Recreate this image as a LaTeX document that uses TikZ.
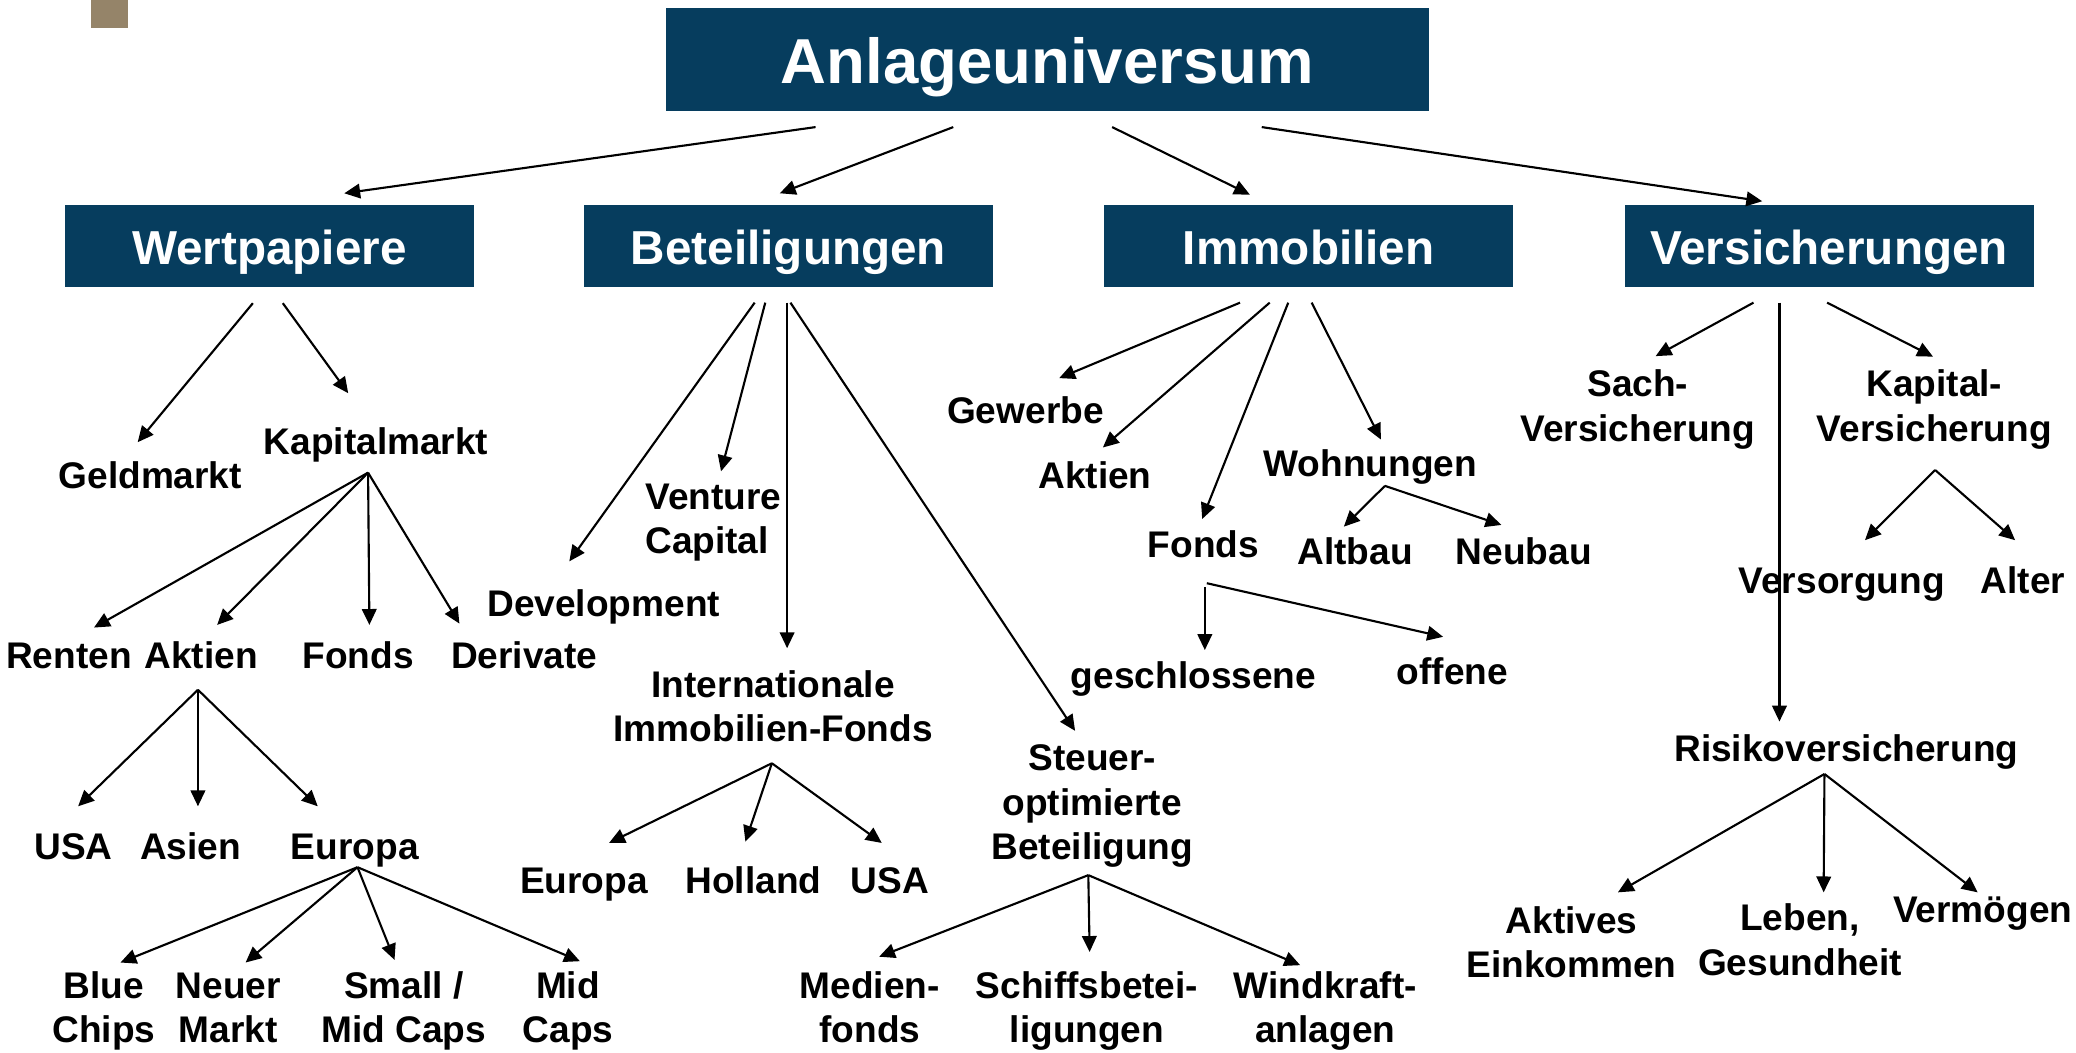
\documentclass[tikz,border=0pt]{standalone}
\usepackage{fontspec}
\setmainfont{Liberation Sans}
\usetikzlibrary{arrows.meta}
\definecolor{boxblue}{RGB}{6,61,94}
\definecolor{sqbrown}{RGB}{149,132,105}
\newcommand{\mlc}[1]{\begin{tabular}[t]{@{}c@{}}#1\end{tabular}}
\newcommand{\mll}[1]{\begin{tabular}[t]{@{}l@{}}#1\end{tabular}}
\begin{document}
\begin{tikzpicture}[x=0.5pt,y=-0.5pt,
  box/.style={fill=boxblue,text=white,inner sep=0pt,font=\bfseries\fontsize{18}{21.6}\selectfont,minimum width=154.5pt,minimum height=31pt,text height=14pt,text depth=0pt},
  lbl/.style={inner sep=0pt,anchor=base,font=\bfseries\fontsize{14}{16.8}\selectfont},
  arr/.style={line width=0.8pt,-{Triangle[length=6pt,width=5.5pt]}}]
\useasboundingbox (0,0) rectangle (1568,795);
\fill[sqbrown] (69,0) rectangle (97,21);

% boxes
\node[box,minimum width=288pt,minimum height=39pt,text height=17.7pt,font=\bfseries\fontsize{24}{28.8}\selectfont] (top) at (791,45) {Anlageuniversum};
\node[box] (wp) at (203.5,186) {Wertpapiere};
\node[box] (bt) at (595.5,186) {Beteiligungen};
\node[box] (im) at (988.5,186) {Immobilien};
\node[box] (vs) at (1381.5,186) {Versicherungen};

% Wertpapiere subtree
\node[lbl] (geld) at (113.5,369) {Geldmarkt};
\node[lbl] (kap) at (284,343) {Kapitalmarkt};
\node[lbl] (renten) at (52,505) {Renten};
\node[lbl] (aktienA) at (152,505) {Aktien};
\node[lbl] (fondsA) at (270.5,505) {Fonds};
\node[lbl] (deriv) at (396,505) {Derivate};
\node[lbl] (usaA) at (55.5,649) {USA};
\node[lbl] (asien) at (144,649) {Asien};
\node[lbl] (europaA) at (268,649) {Europa};
\node[lbl] (blue) at (78.5,754) {\mlc{Blue\\Chips}};
\node[lbl] (neuer) at (172.5,754) {\mlc{Neuer\\Markt}};
\node[lbl] (small) at (305,754) {\mlc{Small /\\Mid Caps}};
\node[lbl] (mid) at (429,754) {\mlc{Mid\\Caps}};

% Beteiligungen subtree
\node[lbl] (dev) at (456,466) {Development};
\node[lbl,anchor=base west] (venture) at (487,384.7) {\mll{Venture\\Capital}};
\node[lbl] (intl) at (584,526.5) {\mlc{Internationale\\Immobilien-Fonds}};
\node[lbl] (europaB) at (441,675) {Europa};
\node[lbl] (holland) at (569,675) {Holland};
\node[lbl] (usaB) at (672,675) {USA};
\node[lbl] (steuer) at (825,582) {\mlc{Steuer-\\optimierte\\Beteiligung}};
\node[lbl] (medien) at (657,754) {\mlc{Medien-\\fonds}};
\node[lbl] (schiff) at (821,754) {\mlc{Schiffsbetei-\\ligungen}};
\node[lbl] (wind) at (1001,754) {\mlc{Windkraft-\\anlagen}};

% Immobilien subtree
\node[lbl] (gewerbe) at (774.5,320) {Gewerbe};
\node[lbl] (aktienB) at (827,368.6) {Aktien};
\node[lbl] (fondsB) at (909,421) {Fonds};
\node[lbl] (wohn) at (1035,360) {Wohnungen};
\node[lbl] (altbau) at (1023.5,426) {Altbau};
\node[lbl] (neubau) at (1151,426) {Neubau};
\node[lbl] (geschl) at (901.5,520) {geschlossene};
\node[lbl] (offene) at (1097,517) {offene};

% Versicherungen subtree
\node[lbl] (sach) at (1237,299.6) {\mlc{Sach-\\Versicherung}};
\node[lbl] (kapv) at (1461,299.6) {\mlc{Kapital-\\Versicherung}};
\node[lbl] (versorg) at (1391,448) {Versorgung};
\node[lbl] (alter) at (1528,448) {Alter};
\node[lbl] (risiko) at (1394.5,575.3) {Risikoversicherung};
\node[lbl] (aktives) at (1187,705) {\mlc{Aktives\\Einkommen}};
\node[lbl] (leben) at (1359.5,703) {\mlc{Leben,\\Gesundheit}};
\node[lbl] (vermoegen) at (1497.5,697) {Vermögen};

% connector end points
\coordinate (topS1) at (616,96);   \coordinate (wpT) at (260,146);
\coordinate (topS2) at (720,96);   \coordinate (btT) at (589,146);
\coordinate (topS3) at (840,96);   \coordinate (imT) at (944,147);
\coordinate (topS4) at (953,96);   \coordinate (vsT) at (1331,152);

\coordinate (wpS1) at (191,229);   \coordinate (geldT) at (104,334);
\coordinate (wpS2) at (213.6,229); \coordinate (kapT) at (263,297);
\coordinate (kapA) at (278,357);
\coordinate (rentenT) at (71,474); \coordinate (aktienAT) at (164,472);
\coordinate (fondsAT) at (279,472); \coordinate (derivT) at (347,471);
\coordinate (aktA) at (149.5,521);
\coordinate (usaAT) at (59,609); \coordinate (asienT) at (149.5,609); \coordinate (europaAT) at (240,609);
\coordinate (eurA) at (270,655);
\coordinate (blueT) at (91,727); \coordinate (neuerT) at (185.5,727);
\coordinate (smallT) at (298,725); \coordinate (midT) at (438,726);

\coordinate (btS1) at (570,228.6);   \coordinate (devT) at (430,424);
\coordinate (btS2) at (578,228.6);   \coordinate (ventureT) at (544.6,356);
\coordinate (btS3) at (594.5,228.6); \coordinate (intlT) at (594.5,489.6);
\coordinate (btS4) at (597,228.6);   \coordinate (steuerT) at (812,552);
\coordinate (intlA) at (583,576.5);
\coordinate (europaBT) at (460,636.7); \coordinate (hollandT) at (563,635.7); \coordinate (usaBT) at (666,636.7);
\coordinate (steuerA) at (822,661);
\coordinate (medienT) at (664,722.6); \coordinate (schiffT) at (823,719); \coordinate (windT) at (982,729);

\coordinate (imS1) at (936.6,228.6); \coordinate (gewerbeT) at (800,285.6);
\coordinate (imS2) at (959,228.6);   \coordinate (aktienBT) at (833,338);
\coordinate (imS3) at (973,228.6);   \coordinate (fondsBT) at (908,392);
\coordinate (imS4) at (990.7,228.6); \coordinate (wohnT) at (1043,332);
\coordinate (wohnA) at (1046,367);
\coordinate (altbauT) at (1015,397.8); \coordinate (neubauT) at (1134,396.5);
\coordinate (fondsBA1) at (910,443.5); \coordinate (geschlT) at (910,491);
\coordinate (fondsBA2) at (911.5,440.5); \coordinate (offeneT) at (1090,481);

\coordinate (vsS1) at (1324.4,228.6); \coordinate (sachT) at (1250.5,269);
\coordinate (vsS2) at (1344,228.6);   \coordinate (risikoT) at (1344,545);
\coordinate (vsS3) at (1380,228.6);   \coordinate (kapvT) at (1460,269.4);
\coordinate (kapvA) at (1461.6,355);
\coordinate (versorgT) at (1408.6,408); \coordinate (alterT) at (1522,408);
\coordinate (risikoA) at (1378,584.6);
\coordinate (aktivesT) at (1222,674); \coordinate (lebenT) at (1377.4,674); \coordinate (vermoegenT) at (1493.7,674);

% connectors
\draw[arr] (topS1) -- (wpT);
\draw[arr] (topS2) -- (btT);
\draw[arr] (topS3) -- (imT);
\draw[arr] (topS4) -- (vsT);

\draw[arr] (wpS1) -- (geldT);
\draw[arr] (wpS2) -- (kapT);
\foreach \t in {rentenT,aktienAT,fondsAT,derivT} \draw[arr] (kapA) -- (\t);
\foreach \t in {usaAT,asienT,europaAT} \draw[arr] (aktA) -- (\t);
\foreach \t in {blueT,neuerT,smallT,midT} \draw[arr] (eurA) -- (\t);

\draw[arr] (btS1) -- (devT);
\draw[arr] (btS2) -- (ventureT);
\draw[arr] (btS3) -- (intlT);
\draw[arr] (btS4) -- (steuerT);
\foreach \t in {europaBT,hollandT,usaBT} \draw[arr] (intlA) -- (\t);
\foreach \t in {medienT,schiffT,windT} \draw[arr] (steuerA) -- (\t);

\draw[arr] (imS1) -- (gewerbeT);
\draw[arr] (imS2) -- (aktienBT);
\draw[arr] (imS3) -- (fondsBT);
\draw[arr] (imS4) -- (wohnT);
\foreach \t in {altbauT,neubauT} \draw[arr] (wohnA) -- (\t);
\draw[arr] (fondsBA1) -- (geschlT);
\draw[arr] (fondsBA2) -- (offeneT);

\draw[arr] (vsS1) -- (sachT);
\draw[arr] (vsS2) -- (risikoT);
\draw[arr] (vsS3) -- (kapvT);
\foreach \t in {versorgT,alterT} \draw[arr] (kapvA) -- (\t);
\foreach \t in {aktivesT,lebenT,vermoegenT} \draw[arr] (risikoA) -- (\t);
\end{tikzpicture}
\end{document}
